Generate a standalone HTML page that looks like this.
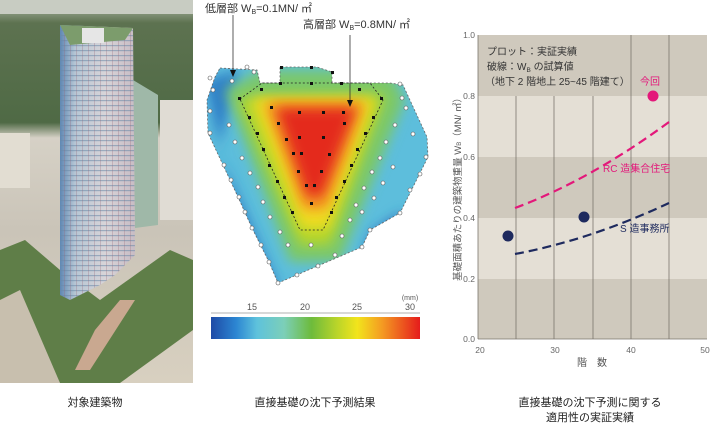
<!DOCTYPE html>
<html><head><meta charset="utf-8"><style>
body{margin:0;width:710px;height:424px;background:#fff;overflow:hidden;font-family:"Liberation Sans","Noto Sans CJK JP",sans-serif}
svg{position:absolute;left:0;top:0}
</style></head><body>
<svg width="710" height="424" viewBox="0 0 710 424" font-family="Liberation Sans, Noto Sans CJK JP, sans-serif">
<defs>
<linearGradient id="bg" x1="0" y1="0" x2="0" y2="1">
<stop offset="0" stop-color="#b9c0b2"/><stop offset="0.06" stop-color="#5d7250"/><stop offset="0.32" stop-color="#4f6a45"/><stop offset="0.36" stop-color="#d6d1c6"/><stop offset="0.6" stop-color="#cac4b8"/><stop offset="1" stop-color="#d8d0c0"/>
</linearGradient>
<linearGradient id="tw" x1="0" y1="0" x2="1" y2="0">
<stop offset="0" stop-color="#5f88b4"/><stop offset="0.2" stop-color="#b6c6d4"/><stop offset="0.6" stop-color="#d8d4d8"/><stop offset="1" stop-color="#c8bcc4"/>
</linearGradient>
<pattern id="fl" width="6" height="5" patternUnits="userSpaceOnUse"><rect width="6" height="1.2" fill="#6a88a8" opacity="0.55"/><rect x="4" width="1" height="5" fill="#9a6a7a" opacity="0.3"/></pattern>
<linearGradient id="cb" x1="0" y1="0" x2="1" y2="0">
<stop offset="0" stop-color="#1e4aa6"/><stop offset="0.12" stop-color="#2c86d2"/><stop offset="0.22" stop-color="#5ec2dc"/><stop offset="0.35" stop-color="#7ccfb8"/><stop offset="0.48" stop-color="#6dbb3c"/><stop offset="0.6" stop-color="#b8d42a"/><stop offset="0.7" stop-color="#f2e41c"/><stop offset="0.82" stop-color="#f49a22"/><stop offset="1" stop-color="#e51c1c"/>
</linearGradient>
<filter id="bl" x="-20%" y="-20%" width="140%" height="140%"><feGaussianBlur stdDeviation="6"/></filter>
<clipPath id="outer"><polygon points="220,68 257,70 260,83 280,83 280,67 317,67 332,72 332,83 390,83 403,85 427,137 428,157 400,213 370,230 362,247 278,283 269,262 252,228 238,197 223,165 208,133 207,100 215,77"/></clipPath>
</defs>
<!-- building photo -->
<rect x="0" y="0" width="193" height="383" fill="url(#bg)"/>
<rect x="0" y="0" width="193" height="14" fill="#c8ccc2"/>
<rect x="0" y="133" width="30" height="55" fill="#e2ddd2"/>
<rect x="160" y="100" width="33" height="120" fill="#e0dcd4"/>
<polygon points="133,80 158,95 158,225 135,228" fill="#9fb8a8"/>
<polygon points="0,250 25,240 60,270 100,300 170,250 193,260 193,330 120,383 60,383 0,300" fill="#5f7e48"/>
<polygon points="0,300 20,290 60,383 0,383" fill="#c8bfae"/>
<polygon points="95,330 120,300 135,300 90,370 75,370" fill="#c9a890"/>
<polygon points="60,25 133,28 135,255 115,275 100,285 70,300 60,295" fill="url(#tw)"/>
<polygon points="60,25 133,28 135,255 115,275 100,285 70,300 60,295" fill="url(#fl)"/>
<polygon points="60,25 133,28 125,40 70,45" fill="#7c9c6c"/>
<rect x="82" y="28" width="22" height="15" fill="#e6e6e6"/>
<!-- heatmap -->
<g clip-path="url(#outer)">
<rect x="200" y="60" width="240" height="230" fill="#5dbedc"/>
<polygon points="205,80 240,70 218,150 280,290 250,290" fill="#2f7fc8" filter="url(#bl)"/>
<polygon points="372,232 405,210 392,245 362,260" fill="#2f6fc0" filter="url(#bl)"/>
<polygon points="225,90 260,70 390,70 405,100 340,262 290,262" fill="#7cc86a" filter="url(#bl)"/>
<polygon points="238,98 385,95 330,245 300,245" fill="#b6d62c" filter="url(#bl)"/>
<polygon points="252,98 375,98 328,228 302,228" fill="#f0dc20" filter="url(#bl)"/>
<polygon points="264,102 365,102 326,210 304,210" fill="#f39222" filter="url(#bl)"/>
<polygon points="276,108 356,108 322,196 307,196" fill="#e42a1c" filter="url(#bl)"/>
</g>
<polygon points="220,68 257,70 260,83 280,83 280,67 317,67 332,72 332,83 390,83 403,85 427,137 428,157 400,213 370,230 362,247 278,283 269,262 252,228 238,197 223,165 208,133 207,100 215,77" fill="none" stroke="#666" stroke-width="0.8" stroke-dasharray="2,2"/>
<polygon points="240,99 262,83 370,83 383,100 323,230 300,230" fill="none" stroke="#222" stroke-width="0.8" stroke-dasharray="2,2"/>
<g fill="#111">
<rect x="280" y="66" width="3" height="3"/><rect x="310" y="66" width="3" height="3"/><rect x="331" y="71" width="3" height="3"/><rect x="279" y="82" width="3" height="3"/><rect x="310" y="82" width="3" height="3"/><rect x="340" y="82" width="3" height="3"/><rect x="270" y="106" width="3" height="3"/><rect x="298" y="111" width="3" height="3"/><rect x="322" y="111" width="3" height="3"/><rect x="342" y="111" width="3" height="3"/><rect x="277" y="122" width="3" height="3"/><rect x="343" y="122" width="3" height="3"/><rect x="285" y="138" width="3" height="3"/><rect x="298" y="136" width="3" height="3"/><rect x="322" y="136" width="3" height="3"/><rect x="328" y="153" width="3" height="3"/><rect x="292" y="152" width="3" height="3"/><rect x="300" y="152" width="3" height="3"/><rect x="297" y="170" width="3" height="3"/><rect x="320" y="170" width="3" height="3"/><rect x="305" y="184" width="3" height="3"/><rect x="313" y="184" width="3" height="3"/><rect x="310" y="202" width="3" height="3"/><rect x="248" y="116" width="3" height="3"/><rect x="256" y="132" width="3" height="3"/><rect x="262" y="148" width="3" height="3"/><rect x="268" y="164" width="3" height="3"/><rect x="276" y="180" width="3" height="3"/><rect x="283" y="196" width="3" height="3"/><rect x="291" y="211" width="3" height="3"/><rect x="372" y="116" width="3" height="3"/><rect x="364" y="132" width="3" height="3"/><rect x="356" y="148" width="3" height="3"/><rect x="350" y="164" width="3" height="3"/><rect x="343" y="180" width="3" height="3"/><rect x="335" y="196" width="3" height="3"/><rect x="330" y="211" width="3" height="3"/><rect x="238" y="97" width="3" height="3"/><rect x="380" y="97" width="3" height="3"/><rect x="260" y="88" width="3" height="3"/><rect x="358" y="88" width="3" height="3"/>
</g>
<g fill="#fff" stroke="#555" stroke-width="0.6">
<circle cx="232" cy="81" r="2"/><circle cx="247" cy="67" r="2"/><circle cx="254" cy="72" r="2"/><circle cx="213" cy="90" r="2"/><circle cx="210" cy="111" r="2"/><circle cx="210" cy="133" r="2"/><circle cx="229" cy="125" r="2"/><circle cx="235" cy="142" r="2"/><circle cx="224" cy="165" r="2"/><circle cx="231" cy="180" r="2"/><circle cx="239" cy="197" r="2"/><circle cx="245" cy="212" r="2"/><circle cx="252" cy="228" r="2"/><circle cx="261" cy="245" r="2"/><circle cx="269" cy="262" r="2"/><circle cx="278" cy="283" r="2"/><circle cx="297" cy="275" r="2"/><circle cx="318" cy="266" r="2"/><circle cx="335" cy="255" r="2"/><circle cx="362" cy="247" r="2"/><circle cx="370" cy="230" r="2"/><circle cx="400" cy="213" r="2"/><circle cx="410" cy="190" r="2"/><circle cx="420" cy="174" r="2"/><circle cx="426" cy="157" r="2"/><circle cx="413" cy="134" r="2"/><circle cx="406" cy="108" r="2"/><circle cx="400" cy="84" r="2"/><circle cx="402" cy="98" r="2"/><circle cx="395" cy="125" r="2"/><circle cx="386" cy="142" r="2"/><circle cx="380" cy="158" r="2"/><circle cx="372" cy="172" r="2"/><circle cx="364" cy="188" r="2"/><circle cx="356" cy="205" r="2"/><circle cx="350" cy="220" r="2"/><circle cx="342" cy="236" r="2"/><circle cx="242" cy="158" r="2"/><circle cx="250" cy="173" r="2"/><circle cx="258" cy="187" r="2"/><circle cx="263" cy="202" r="2"/><circle cx="270" cy="217" r="2"/><circle cx="280" cy="232" r="2"/><circle cx="288" cy="245" r="2"/><circle cx="311" cy="245" r="2"/><circle cx="393" cy="167" r="2"/><circle cx="383" cy="183" r="2"/><circle cx="374" cy="198" r="2"/><circle cx="362" cy="212" r="2"/><circle cx="210" cy="78" r="2"/>
</g>
<line x1="233" y1="15" x2="233" y2="75" stroke="#333" stroke-width="0.8"/><polygon points="230,70 236,70 233,77" fill="#111"/>
<line x1="350" y1="35" x2="350" y2="105" stroke="#333" stroke-width="0.8"/><polygon points="347,100 353,100 350,107" fill="#111"/>
<text x="205" y="12" font-size="11" fill="#333">低層部 W<tspan font-size="7" dy="2">B</tspan><tspan dy="-2">=0.1MN/ ㎡</tspan></text>
<text x="303" y="28" font-size="11" fill="#333">高層部 W<tspan font-size="7" dy="2">B</tspan><tspan dy="-2">=0.8MN/ ㎡</tspan></text>
<rect x="211" y="317" width="209" height="22" fill="url(#cb)"/>
<g stroke="#666" stroke-width="0.6"><line x1="211" y1="313" x2="420" y2="313"/></g>
<g font-size="9" fill="#555" text-anchor="middle"><text x="252" y="310">15</text><text x="305" y="310">20</text><text x="357" y="310">25</text><text x="410" y="310">30</text><text x="410" y="300" font-size="7">(mm)</text></g>
<!-- chart -->
<rect x="478" y="35" width="229" height="61" fill="#cfc9bd"/>
<rect x="478" y="96" width="229" height="61" fill="#e4dfd5"/>
<rect x="478" y="157" width="229" height="61" fill="#cfc9bd"/>
<rect x="478" y="218" width="229" height="61" fill="#e4dfd5"/>
<rect x="478" y="279" width="229" height="60" fill="#cfc9bd"/>
<g stroke="#7a756c" stroke-width="0.8">
<line x1="516" y1="96" x2="516" y2="339"/><line x1="554" y1="96" x2="554" y2="339"/><line x1="593" y1="96" x2="593" y2="339"/><line x1="631" y1="35" x2="631" y2="339"/><line x1="669" y1="35" x2="669" y2="339"/>
<line x1="478" y1="35" x2="478" y2="339"/><line x1="478" y1="339" x2="707" y2="339"/>
</g>
<g font-size="8.5" fill="#666" text-anchor="end"><text x="475" y="38">1.0</text><text x="475" y="99">0.8</text><text x="475" y="160">0.6</text><text x="475" y="221">0.4</text><text x="475" y="282">0.2</text><text x="475" y="342">0.0</text></g>
<g font-size="8.5" fill="#666" text-anchor="middle"><text x="480" y="353">20</text><text x="555" y="353">30</text><text x="631" y="353">40</text><text x="705" y="353">50</text></g>
<text x="592" y="366" font-size="10" fill="#555" text-anchor="middle">階　数</text>
<text transform="translate(461,187) rotate(-90)" font-size="9.5" fill="#555" text-anchor="middle">基礎面積あたりの建築物重量 W<tspan font-size="6">B</tspan>（MN/ ㎡）</text>
<path d="M515,208 Q590,180 669,122" fill="none" stroke="#e3187a" stroke-width="2.2" stroke-dasharray="9,5"/>
<path d="M515,254 Q590,240 669,203" fill="none" stroke="#1e2a5e" stroke-width="2.2" stroke-dasharray="9,5"/>
<circle cx="508" cy="236" r="5.5" fill="#1e2a5e"/><circle cx="584" cy="217" r="5.5" fill="#1e2a5e"/><circle cx="653" cy="96" r="5.5" fill="#e3187a"/>
<g font-size="10" fill="#333"><text x="487" y="55">プロット：実証実績</text><text x="487" y="70">破線：W<tspan font-size="6.5" dy="2">B</tspan><tspan dy="-2"> の試算値</tspan></text><text x="485" y="85">（地下 2 階地上 25~45 階建て）</text></g>
<text x="650" y="85" font-size="10" fill="#e3187a" text-anchor="middle">今回</text>
<text x="603" y="172" font-size="10" fill="#e3187a">RC 造集合住宅</text>
<text x="620" y="232" font-size="10" fill="#1e2a5e">S 造事務所</text>
<!-- captions -->
<g font-size="11" fill="#222" text-anchor="middle"><text x="95" y="406">対象建築物</text><text x="315" y="406">直接基礎の沈下予測結果</text><text x="590" y="406">直接基礎の沈下予測に関する</text><text x="590" y="421">適用性の実証実績</text></g>
</svg>
</body></html>
